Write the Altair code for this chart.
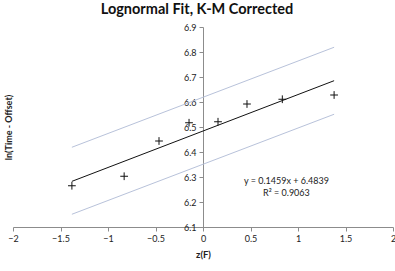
import altair as alt
import pandas as pd

# data
z_vals = [-1.38, -0.83, -0.463, -0.147, 0.158, 0.463, 0.835, 1.38]
ln_vals = [6.265, 6.303, 6.444, 6.517, 6.521, 6.592, 6.611, 6.628]

line_x = [-1.38, 1.38]
fit_y = [6.2826, 6.6852]
upper_y = [6.419, 6.819]
lower_y = [6.151, 6.551]

eq_lines = ["y = 0.1459x + 6.4839", "R² = 0.9063"]
eq_x = [0.878, 0.878]
eq_y = [6.285, 6.237]

x_ticks = [-2, -1.5, -1, -0.5, 0, 0.5, 1, 1.5, 2]
y_ticks = [6.1, 6.2, 6.3, 6.4, 6.5, 6.6, 6.7, 6.8, 6.9]

pts = pd.DataFrame({"z": z_vals, "v": ln_vals})
lines = pd.DataFrame({
    "z": line_x * 3,
    "v": fit_y + upper_y + lower_y,
    "s": ["fit"] * 2 + ["upper"] * 2 + ["lower"] * 2,
})
ann = pd.DataFrame({"z": eq_x, "v": eq_y, "t": eq_lines})

FONT = "Lato"
AXC = "#8c8c8c"

xs = alt.Scale(domain=[-2, 2], nice=False, zero=False)
ys = alt.Scale(domain=[6.1, 6.9], nice=False, zero=False)

xaxis = alt.Axis(values=x_ticks, tickCount=9, grid=False,
                 domainColor=AXC, tickColor=AXC, tickSize=4, labelFont=FONT,
                 labelFontSize=9, labelColor="#222", labelPadding=3, format=".1~f",
                 title="z(F)", titleFont=FONT, titleFontSize=9.5,
                 titleFontWeight="bold", titleColor="#222", titlePadding=6,
                 labelFlush=False, labelOverlap=False)
yaxis = alt.Axis(values=y_ticks, tickCount=9, grid=False,
                 offset=-190, domainColor=AXC, tickColor=AXC, tickSize=4,
                 labelFont=FONT, labelFontSize=9, labelColor="#222", labelPadding=3,
                 format=".1f", title="ln(Time - Offset)", titleFont=FONT,
                 titleFontSize=9, titleFontWeight="bold", titleColor="#222",
                 titleX=-195, titleY=100, titleAngle=270, titleBaseline="middle",
                 titleAlign="center", labelOverlap=False, labelFlush=False)

base_x = alt.X("z:Q", scale=xs, axis=xaxis)
base_y = alt.Y("v:Q", scale=ys, axis=yaxis)

line_layer = alt.Chart(lines).mark_line(strokeWidth=1).encode(
    x=base_x, y=base_y, detail="s:N",
    color=alt.Color("s:N", scale=alt.Scale(domain=["fit", "upper", "lower"],
                                           range=["#111111", "#b8c2da", "#b8c2da"]),
                    legend=None),
)

point_layer = alt.Chart(pts).mark_point(
    shape="M-1,0L1,0M0,-1L0,1", size=60, filled=False, stroke="#111111",
    strokeWidth=1, opacity=1
).encode(x=alt.X("z:Q", scale=xs), y=alt.Y("v:Q", scale=ys))

text_layer = alt.Chart(ann).mark_text(
    font=FONT, fontSize=9, color="#222", align="center", baseline="middle"
).encode(x=alt.X("z:Q", scale=xs), y=alt.Y("v:Q", scale=ys), text="t:N")

chart = alt.layer(line_layer, point_layer, text_layer).properties(
    width=380, height=200,
    title=alt.TitleParams("Lognormal Fit, K-M Corrected", font=FONT, fontSize=14.5,
                          fontWeight="bold", color="#111", anchor="middle",
                          offset=6, dx=-6),
    autosize=alt.AutoSizeParams(type="none"),
    padding={"left": 13, "top": 27, "right": 2, "bottom": 44},
).configure_view(stroke=None)

chart.save("out.html", embed_options={"renderer": "svg", "actions": False})
